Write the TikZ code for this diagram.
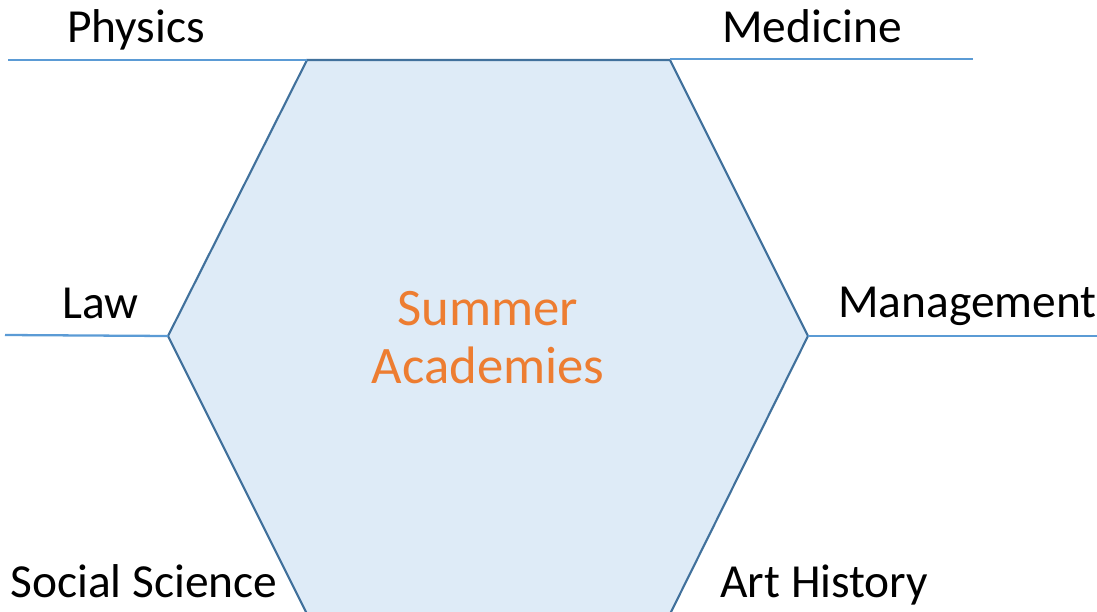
\documentclass[tikz,border=0pt]{standalone}
\usepackage{fontspec}
\setmainfont{Carlito}
\definecolor{hexfill}{RGB}{222,235,247}
\definecolor{hexline}{RGB}{65,113,156}
\definecolor{armline}{RGB}{91,155,213}
\definecolor{titleorange}{RGB}{237,125,49}
\begin{document}
\begin{tikzpicture}[x=0.02cm, y=-0.02cm]
    \tikzset{
        field/.style={anchor=base west, inner sep=0pt, font=\fontsize{27}{31}\selectfont},
        arm/.style={armline, line width=1.3pt}
    }
    \useasboundingbox (0,0) rectangle (1097,611);

    % Hexagon corners
    \coordinate (tl) at (307,60);
    \coordinate (tr) at (670,60);
    \coordinate (r) at (808,336);
    \coordinate (br) at (670,614);
    \coordinate (bl) at (307,614);
    \coordinate (l) at (168,336);

    % Hexagon
    \draw[hexline, line width=1.2pt, fill=hexfill] (tl) -- (tr) -- (r) -- (br) -- (bl) -- (l) -- cycle;
    \node[align=center, text=titleorange, font=\fontsize{30}{33}\selectfont] (title) at (488,338) {Summer\\Academies};

    % Arms
    \coordinate (physend) at (8,60);
    \coordinate (medend) at (973,59);
    \coordinate (lawend) at (5,335);
    \coordinate (mgmtend) at (1097,336);
    \draw[arm] (physend) -- (tl);
    \draw[arm] (tr |- medend) -- (medend);
    \draw[arm] (lawend) -- (l);
    \draw[arm] (r) -- (mgmtend);

    % Fields
    \node[field] (physics) at (67,43) {Physics};
    \node[field] (medicine) at (722,43) {Medicine};
    \node[field] (law) at (62,318) {Law};
    \node[field] (management) at (838,317) {Management};
    \node[field] (social) at (10,597) {Social Science};
    \node[field] (arthistory) at (720,597) {Art History};
\end{tikzpicture}
\end{document}
